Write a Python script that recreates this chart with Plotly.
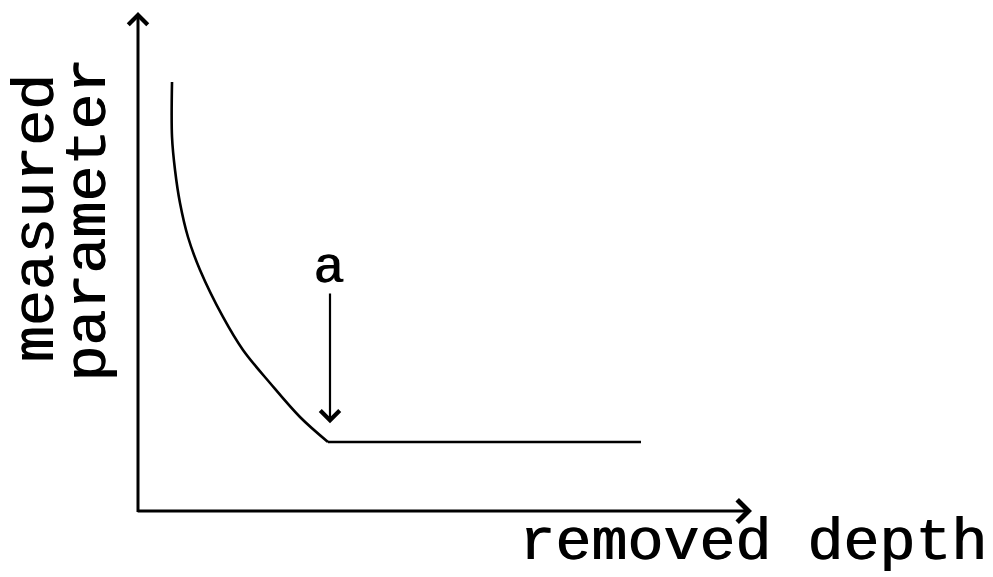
import plotly.graph_objects as go

# Schematic data (abstract units: removed depth vs measured parameter)
curve_x = [0.554, 0.554, 0.603, 0.684, 0.814, 1.010, 1.384, 1.710, 2.150, 2.638, 3.094]
curve_y = [8.597, 7.495, 6.834, 6.172, 5.491, 4.830, 3.888, 3.226, 2.565, 1.884, 1.383]
plateau_x = [3.094, 8.192]
plateau_y = [1.383, 1.383]
marker_a_x = 3.127
marker_a_top = 4.39
marker_a_tip = 1.76
label_a_y = 4.85

x_axis_max = 10.0
y_axis_max = 10.0
x_title = "removed depth"
y_title_lines = ["measured", "parameter"]

FONT = "'Liberation Mono', 'Courier New', monospace"
INK = "#000000"
TEXT_FONT = dict(family=FONT, size=60, color=INK, shadow="1px 0px 0px #000")

fig = go.Figure()
fig.add_trace(go.Scatter(x=curve_x, y=curve_y, mode="lines",
                         line=dict(color=INK, width=2.6, shape="spline", smoothing=1.0),
                         hoverinfo="skip", showlegend=False, cliponaxis=False))
fig.add_trace(go.Scatter(x=plateau_x, y=plateau_y, mode="lines",
                         line=dict(color=INK, width=2.6),
                         hoverinfo="skip", showlegend=False, cliponaxis=False))

annotations = [
    # y axis arrow
    dict(x=0, y=y_axis_max, ax=0, ay=-0.05, xref="x", yref="y", axref="x", ayref="y",
         text="", showarrow=True, arrowhead=4, arrowwidth=3, arrowsize=1.25, arrowcolor=INK),
    # x axis arrow
    dict(x=x_axis_max, y=0, ax=-0.03, ay=0, xref="x", yref="y", axref="x", ayref="y",
         text="", showarrow=True, arrowhead=4, arrowwidth=3, arrowsize=1.45, arrowcolor=INK),
    # marker a arrow
    dict(x=marker_a_x, y=marker_a_tip, ax=marker_a_x, ay=marker_a_top, xref="x", yref="y",
         axref="x", ayref="y", text="", showarrow=True, arrowhead=4, arrowwidth=2.2,
         arrowsize=1.7, arrowcolor=INK),
    dict(x=marker_a_x - 0.03, y=label_a_y, xref="x", yref="y", text="a", showarrow=False,
         font=dict(family=FONT, size=52, color=INK, shadow="1px 0px 0px #000"),
         xanchor="center", yanchor="middle", borderpad=0),
    dict(x=1.001, y=-0.064, xref="paper", yref="paper", text=x_title, showarrow=False,
         font=TEXT_FONT, xanchor="center", yanchor="middle", borderpad=0),
    dict(x=-0.164, y=0.587, xref="paper", yref="paper", text=y_title_lines[0], showarrow=False,
         textangle=-90, font=TEXT_FONT, xanchor="center", yanchor="middle", borderpad=0),
    dict(x=-0.080, y=0.583, xref="paper", yref="paper", text=y_title_lines[1], showarrow=False,
         textangle=-90, font=TEXT_FONT, xanchor="center", yanchor="middle", borderpad=0),
]

fig.update_layout(
    width=993, height=577, autosize=False,
    margin=dict(l=138, r=241, t=12, b=66, pad=0),
    paper_bgcolor="white", plot_bgcolor="white",
    annotations=annotations,
    xaxis=dict(range=[0, x_axis_max], visible=False, fixedrange=True),
    yaxis=dict(range=[0, y_axis_max], visible=False, fixedrange=True),
    showlegend=False,
)

fig.write_html("out.html", config={"displayModeBar": False},
               post_script="document.body.style.margin='0px';")
